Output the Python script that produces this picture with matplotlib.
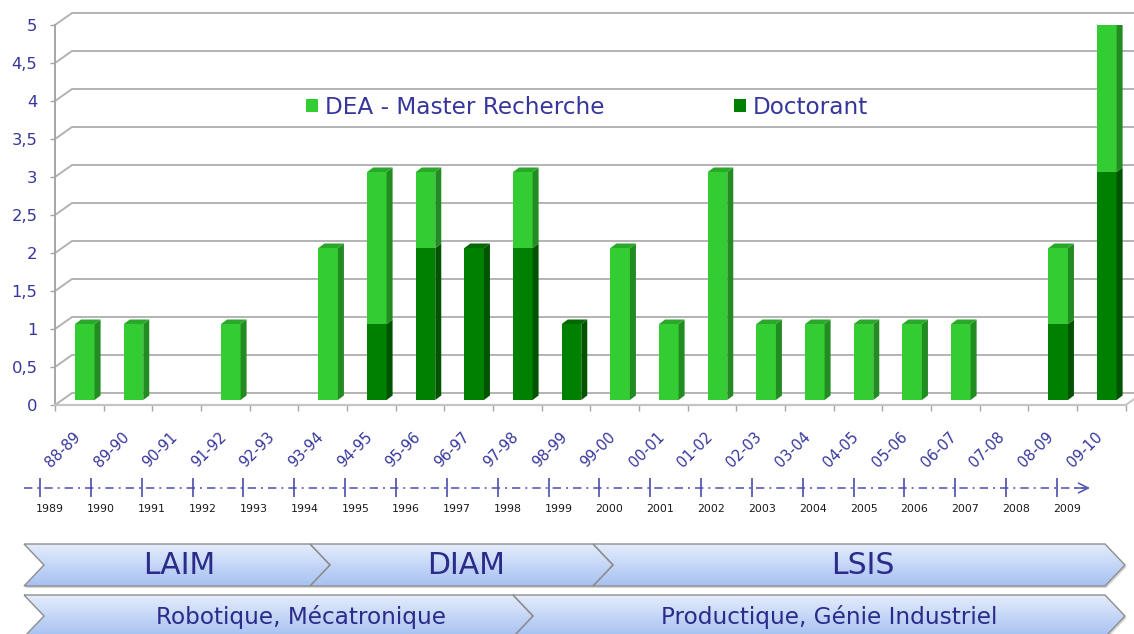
import numpy as np
import matplotlib.pyplot as plt
from matplotlib.patches import Polygon, Patch
from matplotlib.colors import LinearSegmentedColormap
from matplotlib.transforms import ScaledTranslation

# ---- data ----
years = ['88-89', '89-90', '90-91', '91-92', '92-93', '93-94', '94-95', '95-96',
         '96-97', '97-98', '98-99', '99-00', '00-01', '01-02', '02-03', '03-04',
         '04-05', '05-06', '06-07', '07-08', '08-09', '09-10']
doctorant = [0, 0, 0, 0, 0, 0, 1, 2, 2, 2, 1, 0, 0, 0, 0, 0, 0, 0, 0, 0, 1, 3]
dea = [1, 1, 0, 1, 0, 2, 2, 1, 0, 1, 0, 2, 1, 3, 1, 1, 1, 1, 1, 0, 1, 2]
series_names = ['DEA - Master Recherche', 'Doctorant']
y_ticks = [0, 0.5, 1, 1.5, 2, 2.5, 3, 3.5, 4, 4.5, 5]

timeline_years = list(range(1989, 2010))
labs = ['LAIM', 'DIAM', 'LSIS']
themes = ['Robotique, Mécatronique', 'Productique, Génie Industriel']

# ---- layout (pixels) ----
W, H = 1134, 634
x_left, x_right = 55, 1125.7
y_top, y_bot = 25, 405
lab_bounds = [24, 310, 593, 1105]
lab_text_x = [179, 466, 863]
theme_bounds = [24, 513, 1105]
theme_text_x = [301, 829]

txt_col = '#36369c'
grid_col = '#b3b3b3'
dea_cols = ['#33cc33', '#228b22', '#2aa82a']
doc_cols = ['#008000', '#005400', '#006a00']

fig = plt.figure(figsize=(W / 100, H / 100), dpi=100)

ax = fig.add_axes([x_left / W, 1 - y_bot / H, (x_right - x_left) / W, (y_bot - y_top) / H])
n = len(years)
ax.set_xlim(-0.5, n - 0.5)
ax.set_ylim(0, 5)
ax.patch.set_visible(False)

px_x = (x_right - x_left) / n
px_y = (y_bot - y_top) / 5
wall_dx, wall_dy = 17 / px_x, 12 / px_y
bar_sx, bar_sy = 5.5 / px_x, 5 / px_y
bar_dx, bar_dy = 6 / px_x, 4.5 / px_y
bar_w = 19.5 / px_x

# back wall gridlines + left wall connectors
for v in y_ticks:
    ax.plot([-0.5, -0.5 + wall_dx, n + 1], [v, v + wall_dy, v + wall_dy],
            color=grid_col, lw=1.4, clip_on=False, zorder=1)
ax.plot([n - 0.5, n - 0.5 + wall_dx], [0, wall_dy], color='#c4c4c4', lw=1.4,
        clip_on=False, zorder=1)

for side in ['top', 'right']:
    ax.spines[side].set_visible(False)
ax.spines['left'].set_color('#a6a6a6')
ax.spines['left'].set_linewidth(1.4)
ax.spines['bottom'].set_color('#c4c4c4')
ax.spines['bottom'].set_linewidth(1.6)

ax.set_yticks(y_ticks, [f'{v:g}'.replace('.', ',') for v in y_ticks])
ax.tick_params(axis='y', length=3.6, width=1, color='#a6a6a6', pad=9,
               labelsize=11.8, labelcolor=txt_col)
ax.set_xticks(np.arange(n), [''] * n)
ax.set_xticks(np.arange(-0.5, n), minor=True)
ax.tick_params(axis='x', which='major', length=0)
ax.tick_params(axis='x', which='minor', length=4.3, width=1, color='#a6a6a6')

lab_tr = ax.get_xaxis_transform() + ScaledTranslation(-1.5 / 100, -29.5 / 100, fig.dpi_scale_trans)
for i, lab in enumerate(years):
    ax.text(i, 0, lab, transform=lab_tr, rotation=45, ha='right', va='center',
            rotation_mode='anchor', fontsize=10.6, color=txt_col)

# bars (front faces)
x = np.arange(n)
doc = np.array(doctorant, dtype=float)
de = np.array(dea, dtype=float)
ax.bar(x + bar_sx, doc, bar_w, bottom=bar_sy, color=doc_cols[0], zorder=3)
ax.bar(x + bar_sx, de, bar_w, bottom=doc + bar_sy, color=dea_cols[0], zorder=3)

# side and top faces
for i in range(n):
    base = 0
    top_col = None
    for h, cols in [(doc[i], doc_cols), (de[i], dea_cols)]:
        if h == 0:
            continue
        x1 = i + bar_sx + bar_w / 2
        y0, y1 = base + bar_sy, base + h + bar_sy
        ax.add_patch(Polygon([(x1, y0), (x1 + bar_dx, y0 + bar_dy),
                              (x1 + bar_dx, y1 + bar_dy), (x1, y1)],
                             fc=cols[1], ec='none', zorder=3))
        base += h
        top_col = cols[2]
    if base > 0:
        x0 = i + bar_sx - bar_w / 2
        x1 = x0 + bar_w
        yt = base + bar_sy
        ax.add_patch(Polygon([(x0, yt), (x0 + bar_dx, yt + bar_dy),
                              (x1 + bar_dx, yt + bar_dy), (x1, yt)],
                             fc=top_col, ec='none', zorder=3))

handles = [Patch(fc=dea_cols[0]), Patch(fc=doc_cols[0])]
fig.legend(handles, series_names, loc='center', bbox_to_anchor=(587 / W, 1 - 107 / H),
           ncol=2, frameon=False, fontsize=16.7, handlelength=0.52, handleheight=0.52,
           handletextpad=0.3, columnspacing=5.6, labelcolor=txt_col, borderpad=0)

# ---- timeline ----
yr_px = 50.85
tl = fig.add_axes([0, 0, 1, 1])
tl.set_xlim(1989 - 40 / yr_px, 1989 + (W - 40) / yr_px)
tl.set_ylim(H, 0)
tl.axis('off')
tl_col = '#5b5bb5'
t_start, t_end = timeline_years[0] - 0.315, timeline_years[-1] + 0.65
tl.plot([t_start, t_end - 0.05], [488, 488], color=tl_col, lw=1.2, dashes=(5, 3, 1.2, 3))
tl.annotate('', xy=(t_end, 488), xytext=(t_end - 0.3, 488),
            arrowprops=dict(arrowstyle='->,head_length=0.7,head_width=0.35',
                            color=tl_col, lw=1.2, shrinkA=0, shrinkB=0))
tl.vlines(timeline_years, 478, 497, color='#4b4bab', lw=1.2)
for yv in timeline_years:
    tl.text(yv + 0.2, 509, str(yv), ha='center', va='center', fontsize=7.9, color='#1a1a1a')

# ---- chevrons ----
lay = fig.add_axes([0, 0, 1, 1])
lay.set_xlim(0, W)
lay.set_ylim(H, 0)
lay.axis('off')
grad_cmap = LinearSegmentedColormap.from_list('chev', ['#e4ecfc', '#a6c1f2'])
grad = np.linspace(0, 1, 64).reshape(-1, 1)


def chevron(x0, x1, top, bot, depth=20):
    mid = (top + bot) / 2
    pts = [(x0, top), (x1, top), (x1 + depth, mid), (x1, bot), (x0, bot), (x0 + depth, mid)]
    shadow = Polygon([(px + 1.5, py + 2) for px, py in pts], fc='#d4d4d4', ec='none', zorder=1)
    lay.add_patch(shadow)
    poly = Polygon(pts, fc='none', ec='#8e8e8e', lw=1.0, zorder=3)
    lay.add_patch(poly)
    im = lay.imshow(grad, cmap=grad_cmap, extent=(x0, x1 + depth, bot, top),
                    origin='upper', aspect='auto', zorder=2)
    im.set_clip_path(poly)


for k, name in enumerate(labs):
    chevron(lab_bounds[k], lab_bounds[k + 1], 544, 586)
    lay.text(lab_text_x[k], 566, name, ha='center', va='center', fontsize=21.5,
             color='#2b2b8a', zorder=4)
for k, name in enumerate(themes):
    chevron(theme_bounds[k], theme_bounds[k + 1], 595, 637)
    lay.text(theme_text_x[k], 617, name, ha='center', va='center', fontsize=16.7,
             color='#2b2b8a', zorder=4)
lay.set_xlim(0, W)
lay.set_ylim(H, 0)

fig.savefig('out.png', dpi=100)
